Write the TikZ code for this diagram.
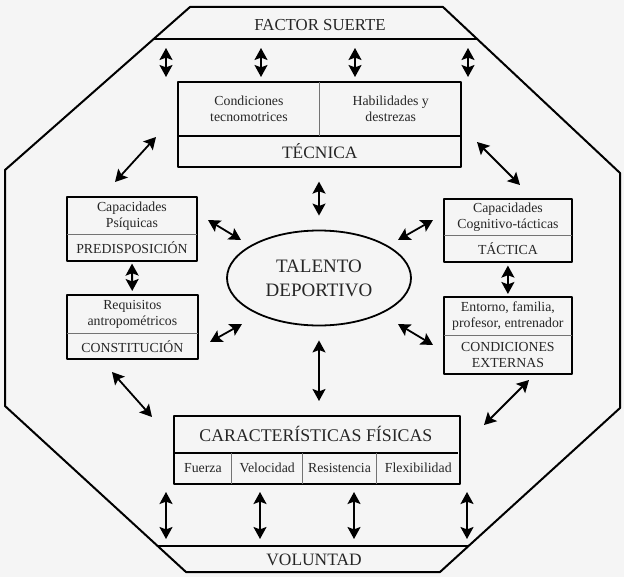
\documentclass[tikz,border=0pt]{standalone}
\usepackage{fontspec}
\setmainfont{Liberation Serif}
\usetikzlibrary{positioning,shapes.geometric,arrows.meta}
\tikzset{
  dbl/.style={{Stealth[length=6pt,width=6.5pt,inset=1.2pt]}-{Stealth[length=6pt,width=6.5pt,inset=1.2pt]},line width=0.9pt},
  cell/.style={inner sep=0pt,align=center,text=black!85,font=\fontsize{6.9}{8}\selectfont},
  bigtext/.style={cell,font=\fontsize{8.7}{12}\selectfont},
  boxline/.style={line width=1pt},
  divline/.style={line width=0.4pt,black!55},
}
\begin{document}
\begin{tikzpicture}[x=0.5pt,y=-0.5pt,line join=round]
  \fill[black!4] (0,0) rectangle (624,577);
  \useasboundingbox (0,0) rectangle (624,577);
  % octagon and the two bands
  \draw[boxline] (190,7) -- (443,7) -- (620,173) -- (620,408) -- (440,572)
    -- (186,572) -- (5,406) -- (5,170) -- cycle;
  \draw[boxline] (153.7,39) -- (477.1,39);
  \draw[boxline] (157.7,546) -- (468.5,546);
  \node[bigtext,font=\fontsize{8.4}{12}\selectfont] (suerte) at (320,25) {FACTOR SUERTE};
  \node[bigtext] (volun) at (314,560) {VOLUNTAD};
  % tecnica
  \node[cell,minimum width=70.5pt,minimum height=26.5pt,anchor=north west] (cond) at (178,82) {Condiciones\\tecnomotrices};
  \node[cell,minimum width=70.5pt,minimum height=26.5pt,right=0pt of cond] (habil) {Habilidades y\\destrezas};
  \node[bigtext,minimum width=141pt,minimum height=15pt,below=0pt of cond.south east] (tec) {TÉCNICA};
  \draw[boxline] (cond.north west) rectangle (tec.south east);
  \draw[boxline] (cond.south west) -- (habil.south east);
  \draw[divline] (cond.north east) -- (cond.south east);
  % predisposicion
  \node[cell,minimum width=64.5pt,minimum height=18.5pt,anchor=north west] (psiq) at (67,197) {Capacidades\\Psíquicas};
  \node[cell,minimum width=64.5pt,minimum height=12.5pt,below=0pt of psiq] (predis) {PREDISPOSICIÓN};
  \draw[boxline] (psiq.north west) rectangle (predis.south east);
  \draw[divline] (psiq.south west) -- (psiq.south east);
  % constitucion
  \node[cell,minimum width=65pt,minimum height=19pt,anchor=north west] (requ) at (67,295) {Requisitos\\antropométricos};
  \node[cell,minimum width=65pt,minimum height=12pt,below=0pt of requ] (const) {CONSTITUCIÓN};
  \draw[boxline] (requ.north west) rectangle (const.south east);
  \draw[divline] (requ.south west) -- (requ.south east);
  % tactica
  \node[cell,minimum width=63.5pt,minimum height=18pt,anchor=north west] (cogn) at (444,199) {Capacidades\\Cognitivo-tácticas};
  \node[cell,minimum width=63.5pt,minimum height=12.5pt,below=0pt of cogn] (tact) {TÁCTICA};
  \draw[boxline] (cogn.north west) rectangle (tact.south east);
  \draw[divline] (cogn.south west) -- (cogn.south east);
  % condiciones externas
  \node[cell,minimum width=63.5pt,minimum height=19pt,anchor=north west] (entor) at (444,297) {Entorno, familia,\\profesor, entrenador};
  \node[cell,minimum width=63.5pt,minimum height=18.5pt,below=0pt of entor] (exter) {CONDICIONES\\EXTERNAS};
  \draw[boxline] (entor.north west) rectangle (exter.south east);
  \draw[divline] (entor.south west) -- (entor.south east);
  % caracteristicas fisicas
  \node[bigtext,font=\fontsize{8.9}{12}\selectfont,minimum width=141.5pt,minimum height=18pt,anchor=north west] (car) at (174,416) {CARACTERÍSTICAS FÍSICAS};
  \node[cell,minimum width=28.5pt,minimum height=15pt,anchor=north west] (fuer) at (car.south west) {Fuerza};
  \node[cell,minimum width=35pt,minimum height=15pt,right=0pt of fuer] (velo) {Velocidad};
  \node[cell,minimum width=36.5pt,minimum height=15pt,right=0pt of velo] (resi) {Resistencia};
  \node[cell,minimum width=41.5pt,minimum height=15pt,right=0pt of resi] (flex) {Flexibilidad};
  \draw[boxline] (car.north west) rectangle (flex.south east);
  \draw[boxline] (car.south west) -- (car.south east);
  \foreach \c in {fuer,velo,resi}
    \draw[divline] (\c.north east) -- (\c.south east);
  % centre
  \node[bigtext,ellipse,draw,line width=0.9pt,minimum width=92pt,minimum height=47.5pt,
    font=\fontsize{9.5}{12}\selectfont] (talento) at (319,278) {TALENTO\\DEPORTIVO};
  % arrows between nodes
  \draw[dbl,shorten <=7.5pt,shorten >=7pt] (tec.south -| talento.north) -- (talento.north);
  \draw[dbl,shorten <=7pt,shorten >=7.5pt] (talento.south) -- (talento.south |- car.north);
  \draw[dbl,shorten <=1.5pt,shorten >=2pt] (predis) -- (requ);
  \draw[dbl,shorten <=2pt,shorten >=1.5pt] (tact) -- (entor);
  % free arrows
  \foreach \x [count=\i] in {166,261,355,468}{
    \coordinate (su\i) at (\x,48);
    \coordinate (st\i) at (\x,77);
    \draw[dbl] (su\i) -- (st\i);
  }
  \foreach \x [count=\i] in {166,260,354,467}{
    \coordinate (cf\i) at (\x,492);
    \coordinate (vo\i) at (\x,539);
    \draw[dbl] (cf\i) -- (vo\i);
  }
  \foreach \n/\ax/\ay/\bx/\by in {tl/115/182/156/137, tr/477/142/520/185,
      el/208/220/241/240, ed/210/342/242/324, er/398/240/433/220,
      eb/398/324/433/345, bl/112/372/152/417, br/529/380/484/425}{
    \coordinate (\n a) at (\ax,\ay);
    \coordinate (\n b) at (\bx,\by);
    \draw[dbl] (\n a) -- (\n b);
  }
\end{tikzpicture}
\end{document}
